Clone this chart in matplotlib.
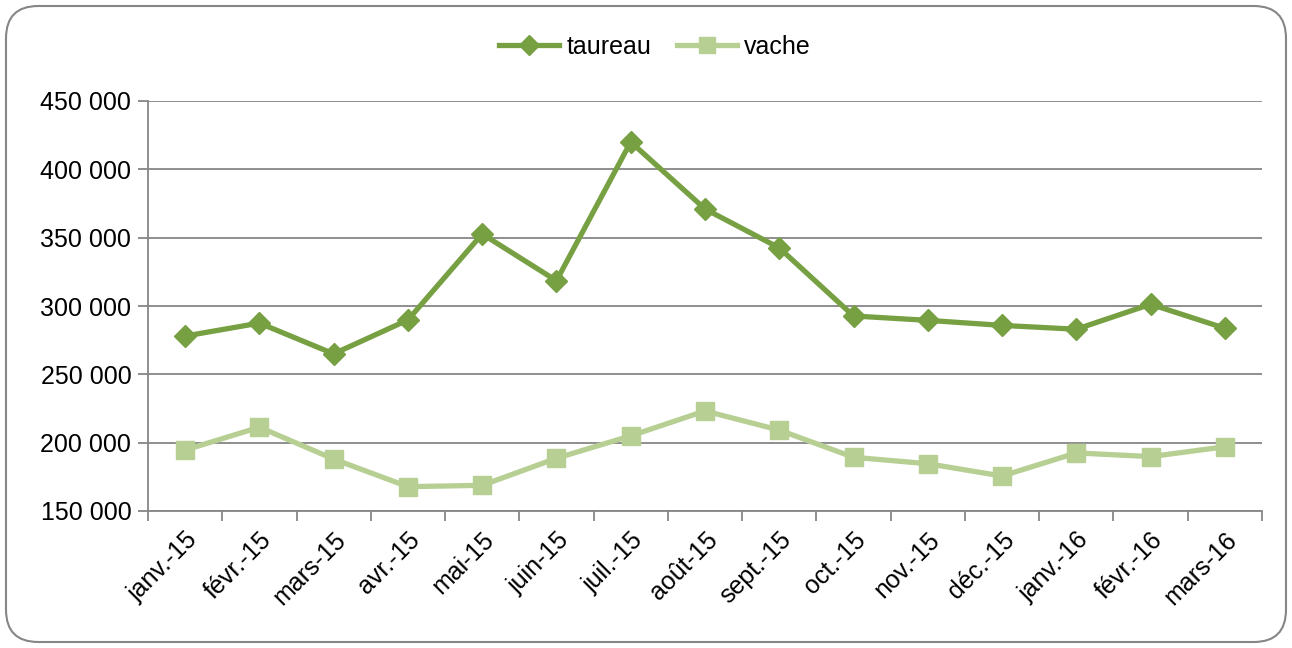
import matplotlib
matplotlib.use("Agg")
import matplotlib.pyplot as plt
from matplotlib.patches import FancyBboxPatch
from matplotlib.ticker import FuncFormatter, FixedLocator

months = ["janv.-15", "févr.-15", "mars-15", "avr.-15", "mai-15", "juin-15", "juil.-15",
          "août-15", "sept.-15", "oct.-15", "nov.-15", "déc.-15", "janv.-16", "févr.-16", "mars-16"]
taureau = [278000, 287500, 265000, 289800, 352700, 318500, 420000, 371000, 342500,
           292700, 289500, 285800, 283000, 301300, 283700]
vache = [194600, 211300, 188000, 167800, 168800, 188600, 205000, 223200, 209200,
         189300, 184600, 175600, 192500, 189800, 197000]
yticks = [150000, 200000, 250000, 300000, 350000, 400000, 450000]

plt.rcParams['font.family'] = ['Liberation Sans', 'DejaVu Sans']

fig = plt.figure(figsize=(12.92, 6.48), dpi=100)
fig.patch.set_facecolor('white')
frame = FancyBboxPatch((6 / 1292, 6 / 648), 1280 / 1292, 636 / 648,
                       boxstyle="round,pad=0,rounding_size=0.025",
                       transform=fig.transFigure, facecolor='none',
                       edgecolor='#868686', linewidth=1.5, mutation_aspect=1292 / 648,
                       zorder=-1)
fig.patches.append(frame)

ax = fig.add_axes([148 / 1292, 1 - 511 / 648, (1262 - 148) / 1292, (511 - 101) / 648])
ax.patch.set_alpha(0)
x = list(range(len(months)))
ax.plot(x, taureau, color='#77A043', lw=3.8, marker='D', ms=11,
        markerfacecolor='#77A043', markeredgecolor='#77A043', label='taureau', zorder=3)
ax.plot(x, vache, color='#B7CF93', lw=3.8, marker='s', ms=13,
        markerfacecolor='#B7CF93', markeredgecolor='#B7CF93', label='vache', zorder=3)

ax.set_xlim(-0.5, len(months) - 0.5)
ax.set_ylim(150000, 450000)
ax.set_yticks(yticks)
ax.yaxis.set_major_formatter(FuncFormatter(lambda v, p: f"{int(v):,}".replace(",", " ")))
ax.grid(axis='y', color='#868686', lw=1.3)
ax.set_axisbelow(True)

ax.set_xticks(x)
ax.set_xticklabels(months, rotation=45, ha='right', rotation_mode='anchor', fontsize=18)
ax.tick_params(axis='x', which='major', length=0, pad=12)
ax.xaxis.set_minor_locator(FixedLocator([i - 0.5 for i in range(len(months) + 1)]))
ax.tick_params(axis='x', which='minor', length=7, width=1.3, color='#868686')
ax.tick_params(axis='y', length=7, width=1.3, color='#868686', labelsize=18, pad=5)

for s in ['top', 'right']:
    ax.spines[s].set_visible(False)
for s in ['left', 'bottom']:
    ax.spines[s].set_color('#868686')
    ax.spines[s].set_linewidth(1.3)

fig.legend(loc='center', bbox_to_anchor=(655 / 1292, 1 - 47 / 648), ncol=2,
           frameon=False, fontsize=18, handlelength=2.4, markerscale=0.9,
           columnspacing=1.0, handletextpad=0.3)

fig.savefig('out.png', dpi=100, facecolor='white')
